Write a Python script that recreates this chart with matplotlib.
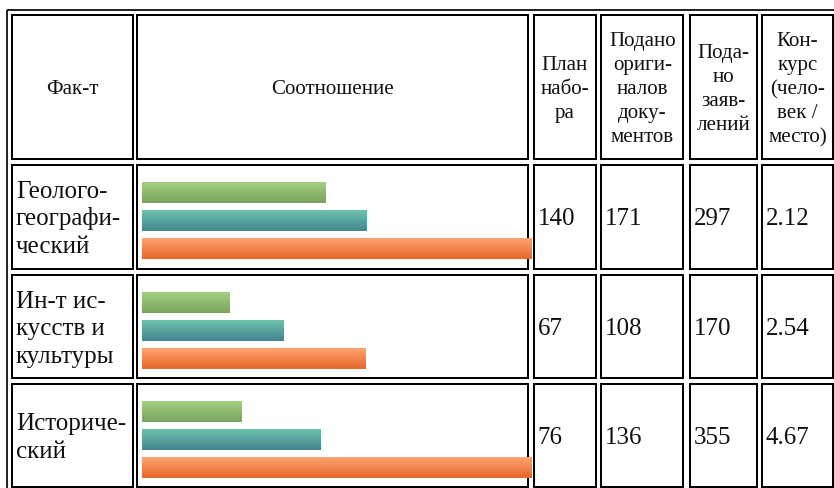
import numpy as np
import matplotlib
matplotlib.use("Agg")
import matplotlib.pyplot as plt
from matplotlib.patches import Rectangle
from matplotlib.colors import LinearSegmentedColormap

# ---- data ----
faculties = ["Геолого-\nгеографи-\nческий", "Ин-т ис-\nкусств и\nкультуры", "Историче-\nский"]
plan = [140, 67, 76]
originals = [171, 108, 136]
applications = [297, 170, 355]
competition = ["2.12", "2.54", "4.67"]
headers = ["Фак-т", "Соотношение", "План\nнабо-\nра",
           "Подано\nориги-\nналов\nдоку-\nментов",
           "Пода-\nно\nзаяв-\nлений",
           "Кон-\nкурс\n(чело-\nвек /\nместо)"]

W, H = 834, 488
DPI = 100
fig = plt.figure(figsize=(W / DPI, H / DPI), dpi=DPI)
fig.patch.set_facecolor("white")
ax = fig.add_axes([0, 0, 1, 1])
ax.set_xlim(0, W)
ax.set_ylim(H, 0)
ax.axis("off")

FONT = "Liberation Serif"
PX2PT = 72 / DPI
BODY_PX, BODY_PITCH = 25, 27.5
HEAD_PX, HEAD_PITCH = 21, 24

cols = [(12.5, 133), (137.5, 528), (534, 596), (601.5, 683.5), (690, 757), (762, 833)]
rows = [(15, 159), (165, 268.5), (275, 378), (384, 487)]
BLW = 2 * PX2PT

# outer table border
ax.plot([7.5, 7.5], [10, H + 5], color="black", lw=1.7 * PX2PT, solid_capstyle="butt")
ax.plot([7.5, W + 5], [10, 10], color="black", lw=1.7 * PX2PT, solid_capstyle="butt")

for (r0, r1) in rows:
    for (c0, c1) in cols:
        ax.add_patch(Rectangle((c0, r0), c1 - c0, r1 - r0, fill=False,
                               edgecolor="black", lw=BLW, zorder=3))


def block(text, x, cy, px, pitch, ha):
    lines = text.split("\n")
    top = cy - len(lines) * pitch / 2
    # baseline: centre of line box + ~0.35 em
    for i, ln in enumerate(lines):
        ax.text(x, top + pitch / 2 + 0.34 * px + i * pitch, ln, fontsize=px * PX2PT,
                family=FONT, ha=ha, va="baseline", color="#111111", zorder=5)


# header
hcy = (rows[0][0] + rows[0][1]) / 2
for (c0, c1), h in zip(cols, headers):
    block(h, (c0 + c1) / 2, hcy, HEAD_PX, HEAD_PITCH, "center")

# body text
for i, (r0, r1) in enumerate(rows[1:]):
    cy = (r0 + r1) / 2
    block(faculties[i], cols[0][0] + 3.5, cy, BODY_PX, BODY_PITCH, "left")
    vals = [str(plan[i]), str(originals[i]), str(applications[i]), competition[i]]
    for (c0, c1), v in zip(cols[2:], vals):
        block(v, c0 + 3.5, cy, BODY_PX, BODY_PITCH, "left")

# bars
bx0, bx1 = 142, 532
bax = fig.add_axes([bx0 / W, 0, (bx1 - bx0) / W, 1])
bax.axis("off")
series = [plan, originals, applications]
grads = [("#a2d07f", "#79a35f"), ("#6cc2ab", "#45858f"), ("#ffa46f", "#e6652a")]
BAR_H, PITCH, OFF = 21, 28, 17
for k, (vals, (ctop, cbot)) in enumerate(zip(series, grads)):
    ys = [r0 + OFF + BAR_H / 2 + k * PITCH for (r0, r1) in rows[1:]]
    bars = bax.barh(ys, vals, height=BAR_H, left=0, color="none", edgecolor="none")
    cmap = LinearSegmentedColormap.from_list(f"g{k}", [ctop, cbot])
    grad = np.linspace(0, 1, 64).reshape(-1, 1)
    for b in bars:
        x0, y0, w, h = b.get_x(), b.get_y(), b.get_width(), b.get_height()
        bax.imshow(grad, cmap=cmap, aspect="auto", origin="upper",
                   extent=(x0, x0 + w, y0 + h, y0), interpolation="bilinear",
                   zorder=2)
bax.set_xlim(0, 297)
bax.set_ylim(H, 0)

fig.savefig("out.png", dpi=DPI, facecolor="white")
